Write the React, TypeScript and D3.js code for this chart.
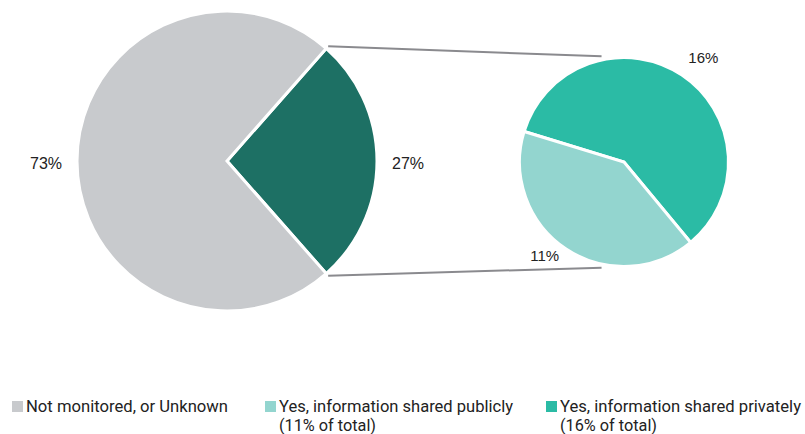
import React from "react";
import * as d3 from "d3";

const mainLabels = ["Yes", "Not monitored, or Unknown"];
const mainValues = [27, 73];
const subLabels = ["Yes, information shared privately", "Yes, information shared publicly"];
const subValues = [16, 11];
const legendLines = [
  ["Not monitored, or Unknown"],
  ["Yes, information shared publicly", "(11% of total)"],
  ["Yes, information shared privately", "(16% of total)"],
];

const W = 805, H = 434;
const deg = Math.PI / 180;

export default function App() {
  const mainC = { x: 227, y: 161 }, mainR = 150;
  const subC = { x: 624, y: 162 }, subR = 104.5;
  const mainColors = ["#1d7064", "#c8cacd"];
  const subColors = ["#2bbba5", "#93d5cf"];
  const legendColors = ["#c8cacd", "#93d5cf", "#2bbba5"];

  const half = (mainValues[0] / d3.sum(mainValues)) * 180;
  const mainPie = d3.pie<number>().sort(null).startAngle((90 - half) * deg).endAngle((450 - half) * deg);
  const mainArcs = mainPie(mainValues);
  const subPie = d3.pie<number>().sort(null).startAngle(-73 * deg).endAngle(287 * deg);
  const subArcs = subPie(subValues);

  const arcMain = d3.arc<d3.PieArcDatum<number>>().innerRadius(0).outerRadius(mainR);
  const arcSub = d3.arc<d3.PieArcDatum<number>>().innerRadius(0).outerRadius(subR);

  const pt = (c: { x: number; y: number }, r: number, a: number) => [c.x + r * Math.sin(a), c.y - r * Math.cos(a)];
  const a0 = mainArcs[0].startAngle, a1 = mainArcs[0].endAngle;
  const p1 = pt(mainC, 153, a0), p2 = pt(subC, 108, -12 * deg);
  const p3 = pt(mainC, 153, a1), p4 = pt(subC, 108, 192 * deg);

  const total = d3.sum(mainValues);
  const legendX = [12, 265, 546];
  const legendW = [202, 234, 241];
  const legendW2 = [0, 97, 97];

  return (
    <svg width={W} height={H} style={{ position: "absolute", left: 0, top: 0, background: "#fff" }}>
      <line x1={p1[0]} y1={p1[1]} x2={p2[0]} y2={p2[1]} stroke="#8a8a8e" strokeWidth={2} />
      <line x1={p3[0]} y1={p3[1]} x2={p4[0]} y2={p4[1]} stroke="#8a8a8e" strokeWidth={2} />
      <g transform={`translate(${mainC.x},${mainC.y})`}>
        {mainArcs.map((d, i) => (
          <path key={mainLabels[i]} d={arcMain(d) || ""} fill={mainColors[i]} stroke="#fff" strokeWidth={3} strokeLinejoin="miter" />
        ))}
        {mainArcs.map((d, i) => {
          const mid = (d.startAngle + d.endAngle) / 2;
          const [x, y] = pt({ x: 0, y: 2 }, 181, mid);
          return (
            <text key={"l" + i} x={x} y={y} dy="0.35em" textAnchor="middle" fontFamily="Liberation Sans, Arial, sans-serif" fontSize={16} fill="#222">
              {Math.round((mainValues[i] / total) * 100)}%
            </text>
          );
        })}
      </g>
      <g transform={`translate(${subC.x},${subC.y})`}>
        {subArcs.map((d, i) => (
          <path key={subLabels[i]} d={arcSub(d) || ""} fill={subColors[i]} stroke="#fff" strokeWidth={3} />
        ))}
        {subArcs.map((d, i) => {
          const mid = (d.startAngle + d.endAngle) / 2 + 5 * deg;
          const [x, y] = pt({ x: 0, y: -5 }, 127, mid);
          return (
            <text key={"s" + i} x={x} y={y} dy="0.35em" textAnchor="middle" fontFamily="Liberation Sans, Arial, sans-serif" fontSize={15} fill="#222">
              {subValues[i]}%
            </text>
          );
        })}
      </g>
      <g fontFamily="Roboto, sans-serif" fontSize={16} fill="#222">
        {legendLines.map((lines, i) => (
          <g key={"lg" + i}>
            <rect x={legendX[i]} y={401} width={11} height={11} fill={legendColors[i]} />
            {lines.map((t, j) => (
              <text key={j} x={legendX[i] + 14} y={412 + j * 18.5} textLength={j === 0 ? legendW[i] : legendW2[i]} lengthAdjust="spacingAndGlyphs">
                {t}
              </text>
            ))}
          </g>
        ))}
      </g>
    </svg>
  );
}
